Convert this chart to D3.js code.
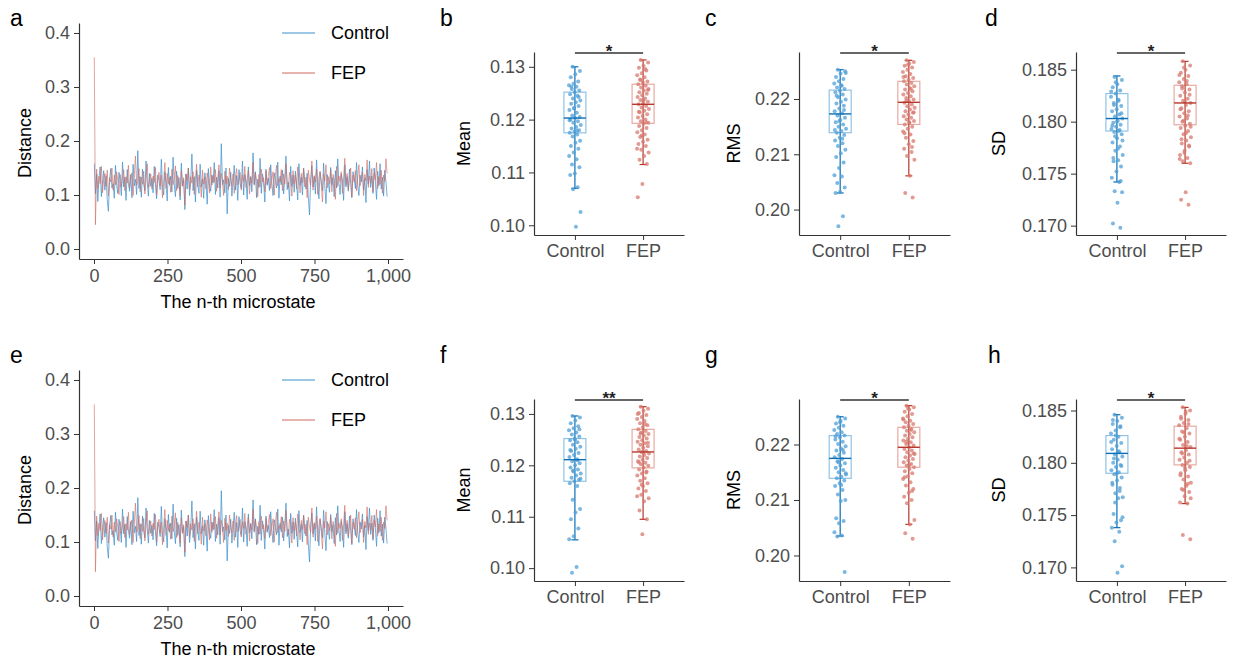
<!DOCTYPE html>
<html>
<head>
<meta charset="utf-8">
<script src="https://cdn.jsdelivr.net/npm/d3@7"></script>
<style>
  body { margin: 0; background: #fff; }
  svg { font-family: "Liberation Sans", Arial, sans-serif; }
</style>
</head>
<body>
<svg id="fig" width="1233" height="660"></svg>
<script>
// ---- data ----
const groups = ['Control', 'FEP'];
const xTicks = [0, 250, 500, 750, 1000];
const microstates = d3.range(1, 1001, 4);

const controlDistance = [
  0.158,0.102,0.139,0.088,0.131,0.152,0.097,0.124,0.145,0.109,0.136,0.092,0.070,0.128,0.149,0.113,0.121,0.094,0.155,0.118,0.103,0.142,0.126,0.099,0.161,
  0.115,0.133,0.090,0.147,0.122,0.107,0.138,0.095,0.157,0.117,0.129,0.101,0.182,0.112,0.134,0.096,0.148,0.120,0.108,0.163,0.125,0.098,0.140,0.116,0.131,
  0.104,0.153,0.119,0.093,0.137,0.127,0.110,0.166,0.114,0.100,0.143,0.123,0.089,0.151,0.118,0.135,0.106,0.170,0.121,0.097,0.144,0.112,0.132,0.091,0.159,
  0.117,0.128,0.073,0.139,0.111,0.150,0.099,0.126,0.176,0.108,0.134,0.087,0.146,0.120,0.103,0.157,0.115,0.130,0.094,0.141,0.124,0.083,0.149,0.118,0.107,
  0.137,0.122,0.160,0.101,0.133,0.113,0.145,0.096,0.195,0.119,0.128,0.104,0.150,0.065,0.131,0.116,0.142,0.098,0.125,0.155,0.109,0.136,0.090,0.147,0.121,
  0.112,0.163,0.100,0.138,0.126,0.092,0.152,0.117,0.134,0.106,0.178,0.120,0.143,0.095,0.129,0.114,0.168,0.103,0.139,0.123,0.087,0.148,0.118,0.131,0.108,
  0.156,0.121,0.099,0.141,0.127,0.113,0.161,0.094,0.135,0.119,0.146,0.102,0.130,0.172,0.110,0.124,0.089,0.153,0.116,0.137,0.105,0.144,0.122,0.091,0.158,
  0.118,0.133,0.100,0.149,0.125,0.111,0.140,0.096,0.063,0.128,0.154,0.115,0.134,0.102,0.165,0.120,0.093,0.142,0.126,0.108,0.159,0.117,0.084,0.138,0.123,
  0.105,0.151,0.119,0.132,0.097,0.145,0.113,0.167,0.124,0.101,0.139,0.128,0.090,0.156,0.115,0.134,0.107,0.148,0.121,0.095,0.143,0.130,0.112,0.160,0.118,
  0.099,0.137,0.124,0.152,0.109,0.131,0.086,0.147,0.120,0.163,0.114,0.135,0.103,0.150,0.126,0.092,0.144,0.117,0.158,0.111,0.133,0.098,0.146,0.125,0.097
];
const fepDistance = [
  0.355,0.045,0.148,0.112,0.135,0.121,0.153,0.104,0.129,0.140,0.116,0.146,0.098,0.132,0.124,0.150,0.109,0.137,0.119,0.143,0.127,0.101,0.138,0.115,0.130,
  0.147,0.108,0.134,0.122,0.155,0.113,0.128,0.141,0.099,0.136,0.172,0.118,0.125,0.149,0.106,0.133,0.120,0.144,0.102,0.131,0.158,0.114,0.127,0.139,0.111,
  0.135,0.123,0.151,0.100,0.129,0.142,0.117,0.137,0.095,0.126,0.160,0.112,0.140,0.121,0.133,0.105,0.148,0.119,0.130,0.154,0.108,0.136,0.124,0.098,0.145,
  0.116,0.132,0.081,0.139,0.127,0.150,0.110,0.134,0.122,0.143,0.101,0.129,0.157,0.115,0.137,0.125,0.096,0.146,0.120,0.133,0.111,0.141,0.128,0.104,0.152,
  0.118,0.136,0.124,0.147,0.107,0.131,0.156,0.113,0.140,0.126,0.099,0.144,0.121,0.135,0.110,0.150,0.128,0.117,0.139,0.103,0.133,0.149,0.119,0.127,0.142,
  0.109,0.137,0.125,0.153,0.114,0.130,0.146,0.102,0.134,0.122,0.161,0.118,0.141,0.127,0.097,0.138,0.115,0.148,0.124,0.132,0.106,0.144,0.120,0.135,0.151,
  0.112,0.129,0.143,0.100,0.136,0.155,0.117,0.131,0.124,0.147,0.108,0.139,0.120,0.158,0.126,0.113,0.142,0.130,0.098,0.145,0.121,0.137,0.111,0.152,0.128,
  0.104,0.140,0.123,0.150,0.115,0.133,0.095,0.146,0.127,0.118,0.163,0.109,0.136,0.124,0.148,0.101,0.131,0.144,0.119,0.087,0.139,0.126,0.156,0.113,0.134,
  0.121,0.147,0.106,0.138,0.129,0.092,0.153,0.116,0.135,0.125,0.143,0.103,0.132,0.168,0.119,0.140,0.111,0.128,0.150,0.097,0.137,0.124,0.145,0.108,0.133,
  0.156,0.117,0.130,0.142,0.099,0.138,0.126,0.165,0.114,0.135,0.122,0.149,0.106,0.141,0.128,0.160,0.112,0.134,0.120,0.146,0.103,0.137,0.125,0.167,0.140
];

// subject-level values (top row b,c,d / bottom row f,g,h)
const meanControlB = [0.1300,0.1292,0.1286,0.1280,0.1272,0.1268,0.1265,0.1262,0.1258,0.1255,0.1252,0.1248,0.1245,0.1240,0.1236,0.1233,0.1230,0.1226,0.1222,0.1218,0.1213,0.1208,0.1205,0.1203,0.1200,0.1197,0.1194,0.1190,0.1186,0.1183,0.1180,0.1177,0.1175,0.1172,0.1168,0.1160,0.1156,0.1150,0.1145,0.1138,0.1131,0.1125,0.1115,0.1110,0.1098,0.1095,0.1072,0.1068,0.1025,0.0997,0.1262,0.1243,0.1221,0.1199,0.1179];
const meanFepB = [0.1313,0.1308,0.1302,0.1298,0.1293,0.1288,0.1284,0.1280,0.1276,0.1272,0.1270,0.1267,0.1264,0.1261,0.1258,0.1255,0.1252,0.1249,0.1246,0.1243,0.1240,0.1237,0.1234,0.1231,0.1229,0.1226,0.1223,0.1220,0.1217,0.1214,0.1210,0.1207,0.1204,0.1200,0.1197,0.1194,0.1192,0.1188,0.1184,0.1180,0.1176,0.1172,0.1167,0.1162,0.1158,0.1154,0.1150,0.1143,0.1138,0.1131,0.1124,0.1116,0.1078,0.1053,0.1296,0.1275,0.1256,0.1236,0.1215,0.1195,0.1170,0.1145];
const rmsControlC = [0.2253,0.2250,0.2246,0.2240,0.2236,0.2232,0.2228,0.2224,0.2221,0.2218,0.2215,0.2212,0.2208,0.2203,0.2199,0.2195,0.2192,0.2188,0.2183,0.2178,0.2174,0.2170,0.2166,0.2162,0.2158,0.2154,0.2150,0.2146,0.2142,0.2139,0.2135,0.2130,0.2125,0.2120,0.2115,0.2108,0.2102,0.2095,0.2085,0.2075,0.2062,0.2060,0.2048,0.2040,0.2032,0.2030,0.1988,0.1970,0.2247,0.2225,0.2206,0.2180,0.2160,0.2144,0.2128];
const rmsFepC = [0.2270,0.2267,0.2264,0.2260,0.2257,0.2253,0.2249,0.2245,0.2241,0.2238,0.2235,0.2232,0.2229,0.2226,0.2223,0.2220,0.2217,0.2214,0.2211,0.2208,0.2205,0.2202,0.2199,0.2196,0.2193,0.2190,0.2187,0.2184,0.2181,0.2178,0.2175,0.2172,0.2169,0.2166,0.2163,0.2160,0.2157,0.2154,0.2150,0.2146,0.2141,0.2136,0.2130,0.2124,0.2118,0.2110,0.2104,0.2097,0.2090,0.2061,0.2030,0.2022,0.2262,0.2240,0.2218,0.2197,0.2176,0.2158,0.2138,0.2113];
const sdControlD = [0.1843,0.1840,0.1836,0.1833,0.1830,0.1827,0.1824,0.1821,0.1818,0.1815,0.1812,0.1810,0.1807,0.1805,0.1803,0.1801,0.1799,0.1797,0.1795,0.1793,0.1791,0.1790,0.1788,0.1784,0.1780,0.1776,0.1772,0.1768,0.1763,0.1762,0.1757,0.1752,0.1746,0.1742,0.1733,0.1732,0.1722,0.1702,0.1698,0.1838,0.1829,0.1820,0.1816,0.1808,0.1800,0.1796,0.1792,0.1786,0.1782,0.1774,0.1765,0.1743];
const sdFepD = [0.1858,0.1854,0.1850,0.1847,0.1844,0.1841,0.1838,0.1836,0.1834,0.1831,0.1828,0.1825,0.1822,0.1820,0.1818,0.1816,0.1813,0.1810,0.1808,0.1805,0.1803,0.1800,0.1798,0.1796,0.1794,0.1791,0.1788,0.1785,0.1782,0.1779,0.1776,0.1772,0.1768,0.1765,0.1762,0.1760,0.1732,0.1725,0.1720,0.1852,0.1845,0.1839,0.1832,0.1826,0.1819,0.1812,0.1806,0.1801,0.1795,0.1789,0.1783,0.1777,0.1770,0.1764];
const meanControlF = [0.1296,0.1293,0.1287,0.1282,0.1276,0.1272,0.1268,0.1264,0.1260,0.1256,0.1252,0.1249,0.1245,0.1240,0.1236,0.1232,0.1228,0.1224,0.1220,0.1216,0.1212,0.1208,0.1204,0.1200,0.1196,0.1192,0.1188,0.1184,0.1180,0.1176,0.1172,0.1169,0.1165,0.1160,0.1133,0.1115,0.1108,0.1095,0.1077,0.1062,0.1056,0.1002,0.0991,0.1270,0.1250,0.1230,0.1210,0.1190,0.1174];
const meanFepF = [0.1314,0.1310,0.1306,0.1302,0.1298,0.1294,0.1290,0.1286,0.1282,0.1278,0.1274,0.1270,0.1267,0.1264,0.1261,0.1258,0.1255,0.1252,0.1249,0.1246,0.1243,0.1240,0.1237,0.1234,0.1231,0.1228,0.1226,0.1223,0.1220,0.1217,0.1214,0.1211,0.1208,0.1205,0.1202,0.1199,0.1196,0.1192,0.1188,0.1184,0.1180,0.1175,0.1170,0.1165,0.1160,0.1155,0.1150,0.1143,0.1136,0.1130,0.1112,0.1095,0.1066,0.1300,0.1280,0.1262,0.1244,0.1225,0.1206,0.1186,0.1162,0.1140];
const rmsControlG = [0.2250,0.2247,0.2243,0.2238,0.2234,0.2230,0.2226,0.2222,0.2219,0.2216,0.2213,0.2209,0.2205,0.2201,0.2197,0.2193,0.2189,0.2185,0.2181,0.2177,0.2174,0.2170,0.2166,0.2162,0.2158,0.2154,0.2150,0.2146,0.2142,0.2139,0.2135,0.2130,0.2125,0.2118,0.2110,0.2100,0.2098,0.2067,0.2062,0.2058,0.2042,0.2036,0.2034,0.1970,0.2240,0.2215,0.2190,0.2168,0.2148,0.2127];
const rmsFepG = [0.2270,0.2267,0.2263,0.2259,0.2255,0.2251,0.2247,0.2243,0.2240,0.2237,0.2234,0.2231,0.2228,0.2225,0.2222,0.2219,0.2216,0.2213,0.2210,0.2207,0.2204,0.2201,0.2198,0.2195,0.2192,0.2189,0.2186,0.2183,0.2180,0.2177,0.2174,0.2171,0.2168,0.2165,0.2162,0.2159,0.2156,0.2152,0.2148,0.2143,0.2138,0.2132,0.2126,0.2120,0.2113,0.2106,0.2100,0.2094,0.2064,0.2056,0.2040,0.2030,0.2265,0.2245,0.2226,0.2205,0.2184,0.2163,0.2141,0.2116];
const sdControlH = [0.1846,0.1843,0.1840,0.1837,0.1834,0.1831,0.1828,0.1825,0.1822,0.1819,0.1816,0.1813,0.1810,0.1808,0.1806,0.1803,0.1800,0.1798,0.1796,0.1793,0.1791,0.1789,0.1786,0.1783,0.1779,0.1776,0.1771,0.1767,0.1766,0.1751,0.1745,0.1743,0.1738,0.1734,0.1725,0.1701,0.1695,0.1841,0.1835,0.1826,0.1820,0.1811,0.1804,0.1797,0.1790,0.1781,0.1773,0.1762,0.1748];
const sdFepH = [0.1853,0.1850,0.1847,0.1844,0.1841,0.1838,0.1836,0.1833,0.1830,0.1828,0.1825,0.1822,0.1820,0.1817,0.1815,0.1812,0.1810,0.1808,0.1805,0.1803,0.1800,0.1798,0.1796,0.1793,0.1790,0.1787,0.1784,0.1781,0.1778,0.1775,0.1772,0.1768,0.1762,0.1761,0.1731,0.1727,0.1849,0.1842,0.1837,0.1829,0.1823,0.1816,0.1809,0.1802,0.1795,0.1788,0.1780,0.1774,0.1766];

// box summaries: [whisker low, q1, median, q3, whisker high]
const boxControl = {
  b: [0.1070,0.1175,0.1203,0.1252,0.1300], c: [0.2030,0.2139,0.2173,0.2216,0.2253], d: [0.1742,0.1791,0.1803,0.1827,0.1844],
  f: [0.1055,0.1169,0.1211,0.1252,0.1296], g: [0.2035,0.2139,0.2175,0.2216,0.2250], h: [0.1738,0.1790,0.1809,0.1826,0.1846]
};
const boxFep = {
  b: [0.1115,0.1193,0.1229,0.1267,0.1313], c: [0.2061,0.2154,0.2194,0.2232,0.2270], d: [0.1760,0.1797,0.1818,0.1835,0.1858],
  f: [0.1095,0.1195,0.1226,0.1270,0.1314], g: [0.2056,0.2159,0.2195,0.2231,0.2270], h: [0.1761,0.1798,0.1814,0.1835,0.1853]
};

const colors = {
  Control: { pt: '#4f9fd6', box: '#8fc3e8', dark: '#0b6eb6', line: '#3a8fcc' },
  FEP:     { pt: '#d77a6f', box: '#e8aaa1', dark: '#b8372b', line: '#d0685d' }
};

const svg = d3.select('#fig');
const tickColor = '#4d4d4d';
const axisColor = '#333';

function styleAxis(g) {
  g.select('.domain').attr('stroke', axisColor).attr('stroke-width', 1.2);
  g.selectAll('.tick line').attr('stroke', axisColor);
  g.selectAll('.tick text').attr('fill', tickColor).style('font-size', '18px').style('font-family', '"Liberation Sans", Arial, sans-serif');
}

function panelLabel(txt, x, y) {
  svg.append('text').attr('x', x).attr('y', y).text(txt)
    .style('font-size', '23px').attr('fill', '#000');
}

// ---- line panels ----
function linePanel(dy, label) {
  const left = 79, right = 403, top = 23 + dy, bottom = 259 + dy;
  const x = d3.scaleLinear().domain([-51, 1051]).range([left, right]);
  const y = d3.scaleLinear().domain([-0.0185, 0.4185]).range([bottom, top]);

  const line = d3.line().x((d, i) => x(microstates[i])).y(d => y(d));
  svg.append('path').datum(controlDistance).attr('d', line)
    .attr('fill', 'none').attr('stroke', colors.Control.line).attr('stroke-width', 1).attr('stroke-opacity', 0.7);
  svg.append('path').datum(fepDistance).attr('d', line)
    .attr('fill', 'none').attr('stroke', colors.FEP.line).attr('stroke-width', 1).attr('stroke-opacity', 0.6);

  svg.append('g').attr('transform', `translate(${left},0)`)
    .call(d3.axisLeft(y).tickValues([0, 0.1, 0.2, 0.3, 0.4]).tickFormat(d3.format('.1f')).tickSize(5).tickSizeOuter(0).tickPadding(4))
    .call(styleAxis);
  svg.append('g').attr('transform', `translate(0,${bottom})`)
    .call(d3.axisBottom(x).tickValues(xTicks).tickFormat(d3.format(',')).tickSize(5).tickSizeOuter(0).tickPadding(5))
    .call(styleAxis);

  svg.append('text').attr('transform', `translate(31,${(top + bottom) / 2 + 2}) rotate(-90)`)
    .attr('text-anchor', 'middle').style('font-size', '18px').text('Distance');
  svg.append('text').attr('x', 238).attr('y', 308 + dy)
    .attr('text-anchor', 'middle').style('font-size', '18px').text('The n-th microstate');

  // legend
  groups.forEach((gName, i) => {
    const ly = 33 + dy + i * 40;
    svg.append('line').attr('x1', 282).attr('x2', 315).attr('y1', ly).attr('y2', ly)
      .attr('stroke', colors[gName].line).attr('stroke-width', 1);
    svg.append('text').attr('x', 331).attr('y', ly + 6).style('font-size', '18px').text(gName);
  });
  panelLabel(label, 10, 26 + (dy ? 337 : 0));
}

// ---- box panels ----
function boxPanel(opt) {
  const { left, right, top, bottom, domain, ticks, fmt, title, titleX, ctrl, fep, key, stars, label, labelX, labelY } = opt;
  const x = d3.scalePoint().domain(groups).range([left, right]).padding(0.6);
  const y = d3.scaleLinear().domain(domain).range([bottom, top]);
  const g = svg.append('g');
  const vals = { Control: ctrl, FEP: fep };
  const stats = { Control: boxControl[key], FEP: boxFep[key] };
  const hw = 11, cap = 3.5;

  groups.forEach(gName => {
    const cx = x(gName), s = stats[gName], c = colors[gName];
    // box
    g.append('rect').attr('x', cx - hw).attr('width', hw * 2)
      .attr('y', y(s[3])).attr('height', y(s[1]) - y(s[3]))
      .attr('fill', 'none').attr('stroke', c.box).attr('stroke-width', 1.2);
    // whisker runs through the box
    g.append('line').attr('x1', cx).attr('x2', cx).attr('y1', y(s[0])).attr('y2', y(s[4]))
      .attr('stroke', c.dark).attr('stroke-width', 1.2);
    [s[0], s[4]].forEach(v => {
      g.append('line').attr('x1', cx - cap).attr('x2', cx + cap).attr('y1', y(v)).attr('y2', y(v))
        .attr('stroke', c.dark).attr('stroke-width', 1.2);
    });
    // points with a fixed jitter
    g.selectAll(null).data(vals[gName]).enter().append('circle')
      .attr('cx', (d, i) => cx + (((i * 0.618034 + 0.3) % 1) - 0.5) * 12)
      .attr('cy', d => y(d)).attr('r', 2)
      .attr('fill', c.pt).attr('fill-opacity', 0.75);
    // median
    g.append('line').attr('x1', cx - hw).attr('x2', cx + hw).attr('y1', y(s[2])).attr('y2', y(s[2]))
      .attr('stroke', c.dark).attr('stroke-width', 1.4);
  });

  svg.append('g').attr('transform', `translate(${left},0)`)
    .call(d3.axisLeft(y).tickValues(ticks).tickFormat(d3.format(fmt)).tickSize(5).tickSizeOuter(0).tickPadding(4))
    .call(styleAxis);
  svg.append('g').attr('transform', `translate(0,${bottom})`)
    .call(d3.axisBottom(x).tickSize(5).tickSizeOuter(0).tickPadding(4))
    .call(styleAxis);

  // significance bar
  const by = top + 1;
  svg.append('line').attr('x1', x('Control')).attr('x2', x('FEP')).attr('y1', by).attr('y2', by)
    .attr('stroke', axisColor).attr('stroke-width', 1.4);
  svg.append('text').attr('x', (x('Control') + x('FEP')) / 2).attr('y', by + 4)
    .attr('text-anchor', 'middle').style('font-size', '17px').style('font-weight', 'bold').attr('fill', '#222').text(stars);

  svg.append('text').attr('transform', `translate(${titleX},${(top + bottom) / 2}) rotate(-90)`)
    .attr('text-anchor', 'middle').style('font-size', '18px').text(title);
  panelLabel(label, labelX, labelY);
}

linePanel(0, 'a');
linePanel(347, 'e');

const rows = [
  { top: 52, bottom: 235, labelY: 26,
    panels: [
      { key: 'b', left: 534, right: 684, domain: [0.09816, 0.1328], ticks: [0.10, 0.11, 0.12, 0.13], fmt: '.2f', title: 'Mean', titleX: 470, ctrl: meanControlB, fep: meanFepB, stars: '*', labelX: 440 },
      { key: 'c', left: 799, right: 950, domain: [0.1954, 0.2285], ticks: [0.20, 0.21, 0.22], fmt: '.2f', title: 'RMS', titleX: 740, ctrl: rmsControlC, fep: rmsFepC, stars: '*', labelX: 705 },
      { key: 'd', left: 1076, right: 1226, domain: [0.1691, 0.1867], ticks: [0.170, 0.175, 0.180, 0.185], fmt: '.3f', title: 'SD', titleX: 1005, ctrl: sdControlD, fep: sdFepD, stars: '*', labelX: 985 }
    ] },
  { top: 399, bottom: 581, labelY: 363,
    panels: [
      { key: 'f', left: 534, right: 684, domain: [0.0975, 0.1329], ticks: [0.10, 0.11, 0.12, 0.13], fmt: '.2f', title: 'Mean', titleX: 470, ctrl: meanControlF, fep: meanFepF, stars: '**', labelX: 440 },
      { key: 'g', left: 799, right: 950, domain: [0.1954, 0.2282], ticks: [0.20, 0.21, 0.22], fmt: '.2f', title: 'RMS', titleX: 740, ctrl: rmsControlG, fep: rmsFepG, stars: '*', labelX: 705 },
      { key: 'h', left: 1076, right: 1226, domain: [0.1687, 0.1861], ticks: [0.170, 0.175, 0.180, 0.185], fmt: '.3f', title: 'SD', titleX: 1005, ctrl: sdControlH, fep: sdFepH, stars: '*', labelX: 988 }
    ] }
];

rows.forEach(r => r.panels.forEach(p => boxPanel(Object.assign({ top: r.top, bottom: r.bottom, label: p.key, labelY: r.labelY }, p))));
</script>
</body>
</html>
